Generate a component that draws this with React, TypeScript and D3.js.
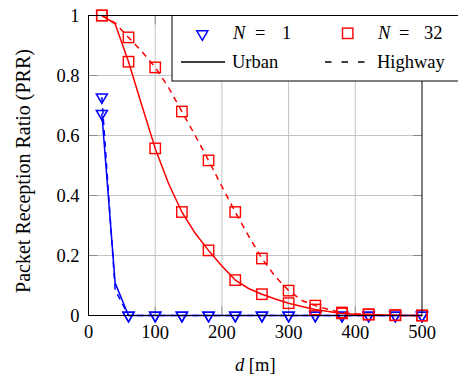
import * as d3 from 'd3'

// distance grid (m), data every 20 m, markers on every other point
const distances = [20, 40, 60, 80, 100, 120, 140, 160, 180, 200, 220, 240, 260, 280, 300, 320, 340, 360, 380, 400, 420, 440, 460, 480, 500]

const n1Urban = [0.673, 0.108, 0, 0, 0, 0, 0, 0, 0, 0, 0, 0, 0, 0, 0, 0, 0, 0, 0, 0, 0, 0, 0, 0, 0]
const n1Highway = [0.728, 0.085, 0, 0, 0, 0, 0, 0, 0, 0, 0, 0, 0, 0, 0, 0, 0, 0, 0, 0, 0, 0, 0, 0, 0]
const n32Urban = [1.0, 0.972, 0.846, 0.7, 0.557, 0.44, 0.345, 0.274, 0.217, 0.165, 0.118, 0.09, 0.071, 0.055, 0.041, 0.03, 0.02, 0.013, 0.007, 0.004, 0.003, 0.002, 0.001, 0, 0]
const n32Highway = [1.0, 0.975, 0.927, 0.88, 0.827, 0.76, 0.68, 0.6, 0.517, 0.43, 0.345, 0.265, 0.19, 0.13, 0.083, 0.05, 0.033, 0.02, 0.01, 0.006, 0.004, 0.002, 0.001, 0, 0]

const xTicks = [0, 100, 200, 300, 400, 500]
const yTicks = [0, 0.2, 0.4, 0.6, 0.8, 1]

const SERIF = 'Liberation Serif'
const RED = '#ff0000'
const BLUE = '#0000ff'

const W = 458
const H = 379
const margin = { left: 88.5, right: 36, top: 15.5, bottom: 63.5 }

const x = d3.scaleLinear().domain([0, 500]).range([margin.left, W - margin.right])
const y = d3.scaleLinear().domain([0, 1]).range([H - margin.bottom, margin.top])

const line = d3.line<number>()
  .x((_, i) => x(distances[i]))
  .y(d => y(d))

const series = [
  { values: n1Urban, color: BLUE, dash: null, mark: 'tri' },
  { values: n1Highway, color: BLUE, dash: '6,5', mark: 'tri' },
  { values: n32Urban, color: RED, dash: null, mark: 'sq' },
  { values: n32Highway, color: RED, dash: '6,5', mark: 'sq' },
]

const TRI = 'M0,6.3L5.5,-3.2L-5.5,-3.2Z'
const SQ = 5.2

function Marker({ kind, cx, cy, color }: { kind: string; cx: number; cy: number; color: string }) {
  if (kind === 'tri') {
    return <path d={TRI} transform={`translate(${cx},${cy})`} fill="none" stroke={color} strokeWidth={1.5} />
  }
  return <rect x={cx - SQ} y={cy - SQ} width={SQ * 2} height={SQ * 2} fill="none" stroke={color} strokeWidth={1.4} />
}

// only the rotated title came out serif, so every label gets a hair of rotation
function Label(props: any) {
  const { x = 0, y = 0, rotate = 0.02, size = 18.5, anchor = 'start', italic = false, children } = props
  return (
    <text transform={`translate(${x},${y}) rotate(${rotate})`} textAnchor={anchor}
      fontStyle={italic ? 'italic' : undefined}
      style={{ fontFamily: SERIF, fontSize: size + 'px' }}>{children}</text>
  )
}

export default function App() {
  const x0 = x.range()[0], x1 = x.range()[1]
  const y0 = y.range()[0], y1 = y.range()[1]
  const tickLen = 9

  return (
    <svg width={W} height={H} style={{ position: 'absolute', left: 0, top: 0, background: '#fff' }}>
      {/* grid */}
      <g stroke="#c4c4c4" strokeWidth={1}>
        {xTicks.slice(1, -1).map(t => <line key={'gx' + t} x1={x(t)} x2={x(t)} y1={y0} y2={y1} />)}
        {yTicks.slice(1, -1).map(t => <line key={'gy' + t} x1={x0} x2={x1} y1={y(t)} y2={y(t)} />)}
      </g>
      {/* inward ticks on all sides */}
      <g stroke="#8a8a8a" strokeWidth={1}>
        {xTicks.slice(1, -1).map(t => (
          <g key={'tx' + t}>
            <line x1={x(t)} x2={x(t)} y1={y0} y2={y0 - tickLen} />
            <line x1={x(t)} x2={x(t)} y1={y1} y2={y1 + tickLen} />
          </g>
        ))}
        {yTicks.slice(1, -1).map(t => (
          <g key={'ty' + t}>
            <line x1={x0} x2={x0 + tickLen} y1={y(t)} y2={y(t)} />
            <line x1={x1} x2={x1 - tickLen} y1={y(t)} y2={y(t)} />
          </g>
        ))}
      </g>

      {/* series */}
      {series.map((s, k) => (
        <g key={k}>
          <path d={line(s.values) ?? ''} fill="none" stroke={s.color} strokeWidth={1.5}
            strokeDasharray={s.dash ?? undefined} strokeLinejoin="round" />
          {s.values.map((v, i) => i % 2 === 0
            ? <Marker key={i} kind={s.mark} cx={x(distances[i])} cy={y(v)} color={s.color} />
            : null)}
        </g>
      ))}

      {/* axis box */}
      <rect x={x0} y={y1} width={x1 - x0} height={y0 - y1} fill="none" stroke="#000" strokeWidth={1} />

      {/* tick labels */}
      {xTicks.map(t => (
        <Label key={'lx' + t} x={x(t)} y={y0 + 23} anchor="middle">{t}</Label>
      ))}
      {yTicks.map(t => (
        <Label key={'ly' + t} x={x0 - 9} y={y(t) + 6.5} anchor="end">{t}</Label>
      ))}

      {/* axis titles */}
      <Label x={(x0 + x1) / 2} y={371} anchor="middle">
        <tspan fontStyle="italic">d</tspan> [m]
      </Label>
      <Label x={30} y={171} rotate={-90} size={20} anchor="middle">
        Packet Reception Ratio (PRR)
      </Label>

      {/* legend */}
      <rect x={172} y={15.5} width={300} height={65.5} fill="#fff" stroke="#000" strokeWidth={1} />
      <Marker kind="tri" cx={202.3} cy={34} color={BLUE} />
      <Label x={233} y={39} italic>N</Label>
      <Label x={255} y={39}>=</Label>
      <Label x={282} y={39}>1</Label>
      <Marker kind="sq" cx={347.7} cy={33.3} color={RED} />
      <Label x={378} y={39} italic>N</Label>
      <Label x={399} y={39}>=</Label>
      <Label x={424} y={39}>32</Label>
      <line x1={181} x2={225} y1={62} y2={62} stroke="#000" strokeWidth={1.4} />
      <Label x={232} y={67.5}>Urban</Label>
      <line x1={325} x2={366} y1={62} y2={62} stroke="#000" strokeWidth={1.4} strokeDasharray="6.5,10" />
      <Label x={377} y={67.5}>Highway</Label>
    </svg>
  )
}
